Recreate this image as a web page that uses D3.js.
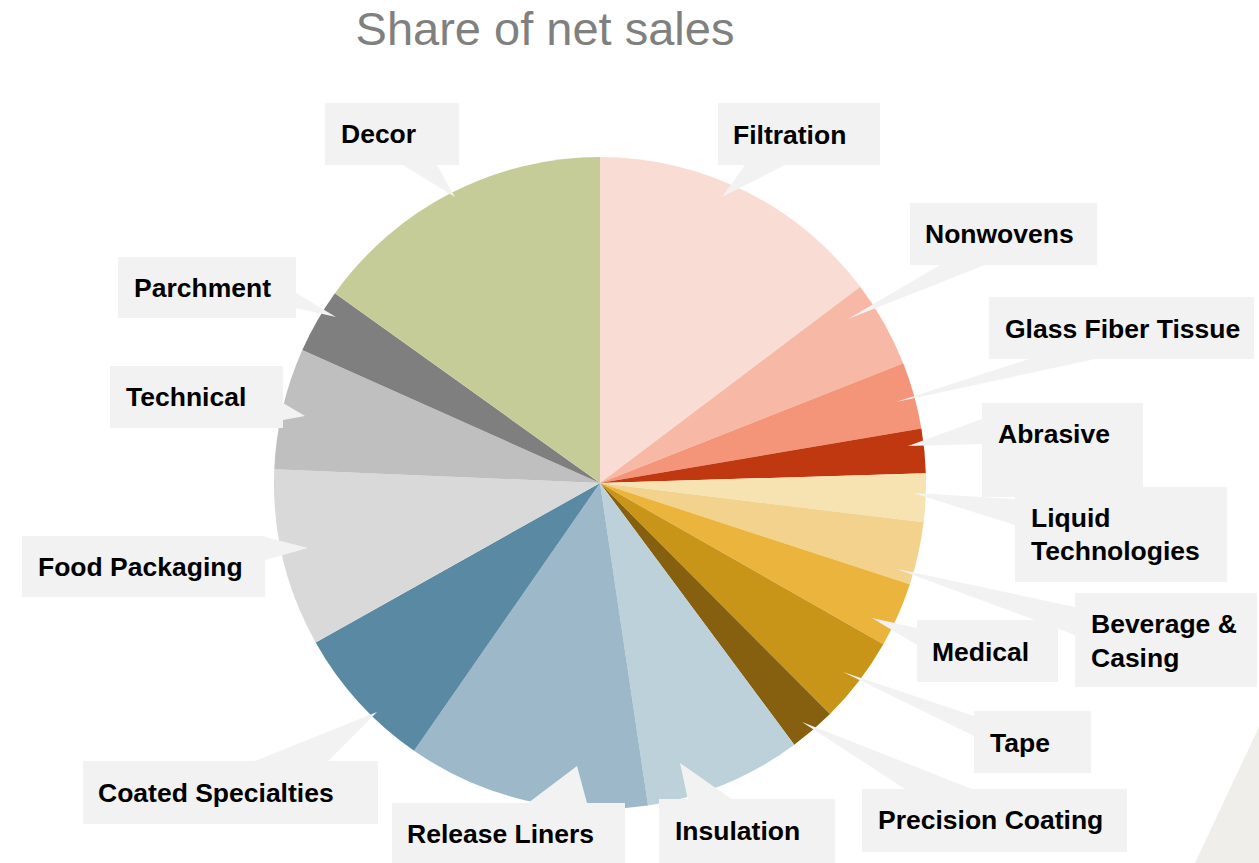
<!DOCTYPE html>
<html>
<head>
<meta charset="utf-8">
<script src="https://cdn.jsdelivr.net/npm/d3@7"></script>
<style>
  body { margin: 0; background: #fff; }
  svg { display: block; }
</style>
</head>
<body>
<div class="graph"></div>
<script>
// segments, clockwise from 12 o'clock
const categories = ["Filtration", "Nonwovens", "Glass Fiber Tissue", "Abrasive", "Liquid Technologies",
  "Beverage & Casing", "Medical", "Tape", "Precision Coating", "Insulation", "Release Liners",
  "Coated Specialties", "Food Packaging", "Technical", "Parchment", "Decor"]
const shares = [14.7, 4.3, 3.3, 2.2, 2.4, 3.1, 3.2, 4.3, 2.3, 7.8, 12.0, 7.2, 8.8, 6.0, 3.2, 15.1]
const colors = ["#f9dcd3", "#f7b9a6", "#f4957a", "#c0380f", "#f7e3b1", "#f2d28c", "#ebb53d", "#c99518",
  "#86600f", "#bdd1da", "#9cb8c9", "#5a8aa3", "#d9d9d9", "#bfbfbf", "#7f7f7f", "#c5cc98"]

// callout boxes: [x, y, w, h], text lines, pointer tip and base points
const callouts = {
  "Decor":               {box: [325, 103, 134, 62], lines: ["Decor"], tx: 341, ty: [143], tip: [455, 197], base: [[403, 165], [437, 165]]},
  "Filtration":          {box: [718, 103, 162, 62], lines: ["Filtration"], tx: 733, ty: [144], tip: [722, 197], base: [[745, 165], [785, 165]]},
  "Nonwovens":           {box: [910, 203, 187, 62], lines: ["Nonwovens"], tx: 925, ty: [243], tip: [848, 319], base: [[940, 265], [985, 265]]},
  "Glass Fiber Tissue":  {box: [989, 297, 265, 62], lines: ["Glass Fiber Tissue"], tx: 1005, ty: [338], tip: [896, 402], base: [[1032, 358], [1100, 358]]},
  "Abrasive":            {box: [982, 403, 161, 94], lines: ["Abrasive"], tx: 998, ty: [443], tip: [908, 446], base: [[982, 419], [982, 444]]},
  "Liquid Technologies": {box: [1015, 487, 212, 95], lines: ["Liquid", "Technologies"], tx: 1031, ty: [527, 560], tip: [913, 493], base: [[1015, 499], [1015, 525]]},
  "Beverage & Casing":   {box: [1075, 593, 182, 94], lines: ["Beverage &", "Casing"], tx: 1091, ty: [633, 667], tip: [897, 569], base: [[1075, 607], [1075, 635]]},
  "Medical":             {box: [917, 620, 141, 62], lines: ["Medical"], tx: 932, ty: [661], tip: [872, 618], base: [[917, 628], [917, 645]]},
  "Tape":                {box: [974, 711, 117, 62], lines: ["Tape"], tx: 990, ty: [752], tip: [843, 672], base: [[974, 716], [974, 736]]},
  "Precision Coating":   {box: [862, 789, 265, 63], lines: ["Precision Coating"], tx: 878, ty: [829], tip: [802, 722], base: [[905, 789], [972, 789]]},
  "Insulation":          {box: [659, 799, 176, 64], lines: ["Insulation"], tx: 675, ty: [840], tip: [680, 763], base: [[688, 800], [733, 800]]},
  "Release Liners":      {box: [392, 803, 233, 60], lines: ["Release Liners"], tx: 407, ty: [843], tip: [577, 766], base: [[528, 803], [587, 803]]},
  "Coated Specialties":  {box: [83, 761, 295, 63], lines: ["Coated Specialties"], tx: 98, ty: [802], tip: [377, 712], base: [[255, 761], [328, 761]]},
  "Food Packaging":      {box: [22, 536, 243, 61], lines: ["Food Packaging"], tx: 38, ty: [576], tip: [308, 548], base: [[265, 537], [265, 560]]},
  "Technical":           {box: [110, 366, 173, 62], lines: ["Technical"], tx: 126, ty: [406], tip: [305, 416], base: [[283, 403], [283, 420]]},
  "Parchment":           {box: [118, 257, 178, 61], lines: ["Parchment"], tx: 134, ty: [297], tip: [336, 317], base: [[296, 293], [296, 308]]}
}

const width = 1259, height = 863
const cx = 600, cy = 483, radius = 326

const data = categories.map((c, i) => ({name: c, value: shares[i], color: colors[i]}))

const svg = d3.select(".graph").append("svg")
    .attr("width", width)
    .attr("height", height)
    .style("font-family", "'Liberation Sans', Arial, sans-serif")

// decorative triangle in the corner
svg.append("path")
    .attr("d", "M1259,727 L1259,863 L1195,863 Z")
    .attr("fill", "#efeeea")

svg.append("text")
    .attr("x", 545)
    .attr("y", 45)
    .attr("text-anchor", "middle")
    .style("font-size", "47px")
    .style("fill", "#808080")
    .text("Share of net sales")

const pie = d3.pie().value(d => d.value).sort(null)
const arc = d3.arc().innerRadius(0).outerRadius(radius)

svg.append("g")
    .attr("transform", `translate(${cx}, ${cy})`)
    .selectAll("path")
    .data(pie(data))
    .join("path")
    .attr("d", arc)
    .attr("fill", d => d.data.color)

// callouts
const labels = svg.append("g")
const entries = data.map(d => callouts[d.name])

labels.selectAll("path.pointer")
    .data(entries)
    .join("path")
    .attr("class", "pointer")
    .attr("d", d => `M${d.tip[0]},${d.tip[1]} L${d.base[0][0]},${d.base[0][1]} L${d.base[1][0]},${d.base[1][1]} Z`)
    .attr("fill", "#f2f2f2")

labels.selectAll("rect")
    .data(entries)
    .join("rect")
    .attr("x", d => d.box[0])
    .attr("y", d => d.box[1])
    .attr("width", d => d.box[2])
    .attr("height", d => d.box[3])
    .attr("fill", "#f2f2f2")

labels.selectAll("text")
    .data(entries)
    .join("text")
    .style("font-size", "26.5px")
    .style("font-weight", "bold")
    .style("fill", "#000")
    .each(function(d) {
        d3.select(this).selectAll("tspan")
            .data(d.lines)
            .join("tspan")
            .attr("x", d.tx)
            .attr("y", (l, i) => d.ty[i])
            .text(l => l)
    })
</script>
</body>
</html>
